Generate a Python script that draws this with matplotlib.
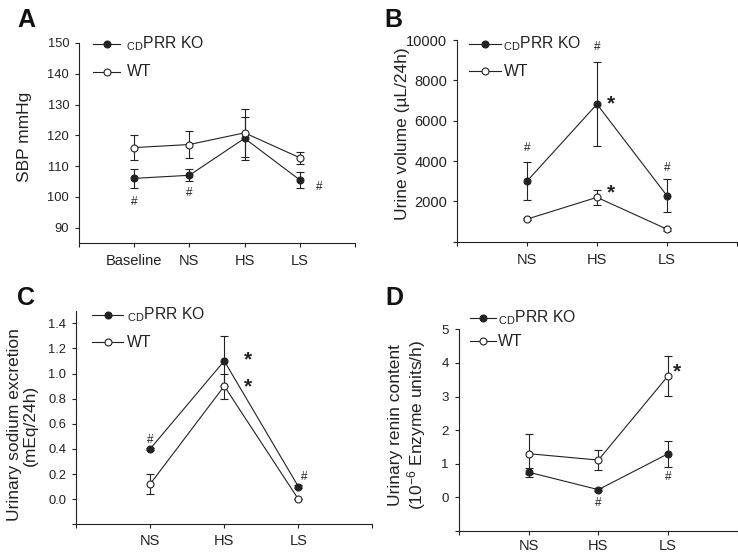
import numpy as np
import matplotlib
matplotlib.use("Agg")
import matplotlib.pyplot as plt

plt.rcParams['font.family'] = ['Liberation Sans', 'DejaVu Sans']
plt.rcParams['mathtext.fontset'] = 'custom'
plt.rcParams['mathtext.rm'] = 'Liberation Sans'
plt.rcParams['mathtext.it'] = 'Liberation Sans:italic'
plt.rcParams['mathtext.bf'] = 'Liberation Sans:bold'

INK = '#222222'

# =========================
# DATA
# =========================
sbp_groups = ['Baseline', 'NS', 'HS', 'LS']
sbp_ko = [106, 107, 119, 105.5]
sbp_ko_err = [3, 2, 7, 2.6]
sbp_wt = [116, 117, 120.8, 112.7]
sbp_wt_err = [4, 4.5, 7.9, 1.9]

diet_groups = ['NS', 'HS', 'LS']
urine_ko = [3000, 6820, 2280]
urine_ko_err = [930, 2090, 810]
urine_wt = [1120, 2200, 620]
urine_wt_err = [50, 360, 80]

sodium_ko = [0.40, 1.10, 0.10]
sodium_ko_err = [0.01, 0.20, 0.01]
sodium_wt = [0.12, 0.90, 0.00]
sodium_wt_err = [0.08, 0.10, 0.00]

renin_ko = [0.75, 0.23, 1.30]
renin_ko_err = [0.13, 0.05, 0.39]
renin_wt = [1.30, 1.11, 3.62]
renin_wt_err = [0.60, 0.30, 0.60]

# significance marks: (x, y, symbol)
sbp_marks = [(1, 98.3, '#'), (2, 101.1, '#'), (4.35, 103.2, '#')]
urine_marks = [(1, 4640, '#'), (2, 9670, '#'), (3, 3650, '#'),
               (2.2, 6850, '*'), (2.2, 2420, '*')]
sodium_marks = [(1, 0.47, '#'), (3.08, 0.175, '#'),
                (2.32, 1.11, '*'), (2.32, 0.895, '*')]
renin_marks = [(2, -0.18, '#'), (3, 0.62, '#'), (3.13, 3.72, '*')]

KO_LABEL = r'$_{\rm CD}$PRR KO'
WT_LABEL = 'WT'


def style_axes(ax, groups, xmax, ysize, xpad=5):
    for side in ('top', 'right'):
        ax.spines[side].set_visible(False)
    for side in ('left', 'bottom'):
        ax.spines[side].set_linewidth(0.8)
        ax.spines[side].set_color(INK)
    ticks = np.arange(0, xmax + 1)
    labels = [''] + list(groups) + ['']
    ax.set_xticks(ticks)
    ax.set_xticklabels(labels)
    ax.set_xlim(0, xmax)
    ax.tick_params(direction='out', length=3, width=0.8, colors=INK)
    ax.tick_params(axis='x', labelsize=10.5, pad=xpad)
    ax.tick_params(axis='y', labelsize=ysize, pad=4)


def draw_series(ax, x, y, err, filled):
    ax.errorbar(x, y, yerr=err, fmt='-o', color=INK, lw=0.8,
                elinewidth=0.8, capsize=3.2, capthick=0.8,
                markersize=5, markeredgewidth=0.8,
                markerfacecolor=INK if filled else 'white',
                markeredgecolor=INK, zorder=3)


def draw_legend(ax, x0, x1, xt, y_ko, y_wt):
    xm = (x0 + x1) / 2
    for y, filled, label in ((y_ko, True, KO_LABEL), (y_wt, False, WT_LABEL)):
        ax.plot([x0, x1], [y, y], color=INK, lw=0.8, transform=ax.transAxes,
                clip_on=False)
        ax.plot([xm], [y], 'o', markersize=5, markeredgewidth=0.8,
                markerfacecolor=INK if filled else 'white',
                markeredgecolor=INK, transform=ax.transAxes, clip_on=False)
        ax.text(xt, y, label, transform=ax.transAxes, va='center',
                ha='left', fontsize=11.3, color=INK)


def draw_marks(ax, marks):
    for x, y, s in marks:
        if s == '#':
            ax.text(x, y, s, ha='center', va='center', fontsize=8.5, color=INK)
        else:
            ax.text(x, y, s, ha='center', va='center', fontsize=15,
                    fontweight='bold', color=INK)


fig = plt.figure(figsize=(7.38, 5.53), dpi=100)

# =========================
# A: SBP
# =========================
axA = fig.add_axes([0.1070, 0.5606, 0.3740, 0.3617])
xa = np.arange(1, len(sbp_groups) + 1)
draw_series(axA, xa, sbp_ko, sbp_ko_err, True)
draw_series(axA, xa, sbp_wt, sbp_wt_err, False)
style_axes(axA, sbp_groups, 5, 9.3)
axA.set_ylim(85, 150)
axA.set_yticks(np.arange(90, 151, 10))
axA.set_ylabel('SBP mmHg', fontsize=12.5, color=INK)
axA.yaxis.set_label_coords(-0.17, 0.53)
draw_legend(axA, 0.051, 0.149, 0.172, 0.995, 0.855)
draw_marks(axA, sbp_marks)

# =========================
# B: Urine volume
# =========================
axB = fig.add_axes([0.6192, 0.5629, 0.3794, 0.3647])
xb = np.arange(1, len(diet_groups) + 1)
draw_series(axB, xb, urine_ko, urine_ko_err, True)
draw_series(axB, xb, urine_wt, urine_wt_err, False)
style_axes(axB, diet_groups, 4, 10.5)
axB.set_ylim(0, 10000)
axB.set_yticks([0, 2000, 4000, 6000, 8000, 10000])
axB.set_yticklabels(['', '2000', '4000', '6000', '8000', '10000'])
axB.set_ylabel('Urine volume (\u00b5L/24h)', fontsize=12.5, color=INK)
axB.yaxis.set_label_coords(-0.168, 0.536)
draw_legend(axB, 0.044, 0.157, 0.166, 0.980, 0.846)
draw_marks(axB, urine_marks)

# =========================
# C: Urinary sodium excretion
# =========================
axC = fig.add_axes([0.1030, 0.0519, 0.4017, 0.3863])
draw_series(axC, xb, sodium_ko, sodium_ko_err, True)
draw_series(axC, xb, sodium_wt, sodium_wt_err, False)
style_axes(axC, diet_groups, 4, 9.3, xpad=4)
axC.set_ylim(-0.2, 1.5)
axC.set_yticks(np.arange(-0.2, 1.41, 0.2))
axC.set_yticklabels([''] + ['%.1f' % v for v in np.arange(0, 1.41, 0.2)])
axC.set_ylabel('Urinary sodium excretion\n(mEq/24h)', fontsize=12.5,
               color=INK, linespacing=1.1)
axC.yaxis.set_label_coords(-0.128, 0.465)
draw_legend(axC, 0.054, 0.159, 0.172, 0.980, 0.853)
draw_marks(axC, sodium_marks)

# =========================
# D: Urinary renin content
# =========================
axD = fig.add_axes([0.6215, 0.0398, 0.3785, 0.3647])
draw_series(axD, xb, renin_ko, renin_ko_err, True)
draw_series(axD, xb, renin_wt, renin_wt_err, False)
style_axes(axD, diet_groups, 4, 9.6, xpad=2.5)
axD.set_ylim(-1, 5)
axD.set_yticks(np.arange(-1, 6, 1))
axD.set_yticklabels([''] + [str(v) for v in range(0, 6)])
axD.set_ylabel('Urinary renin content\n(10$^{-6}$ Enzyme units/h)',
               fontsize=12.5, color=INK, linespacing=1.1)
axD.yaxis.set_label_coords(-0.11, 0.526)
draw_legend(axD, 0.039, 0.135, 0.142, 1.057, 0.942)
draw_marks(axD, renin_marks)

# panel letters
for x, y, letter in ((0.023, 0.985, 'A'), (0.521, 0.985, 'B'),
                     (0.023, 0.483, 'C'), (0.522, 0.483, 'D')):
    fig.text(x, y, letter, fontsize=18, fontweight='bold', va='top',
             ha='left', color='#111111')

fig.savefig('out.png', dpi=100)
